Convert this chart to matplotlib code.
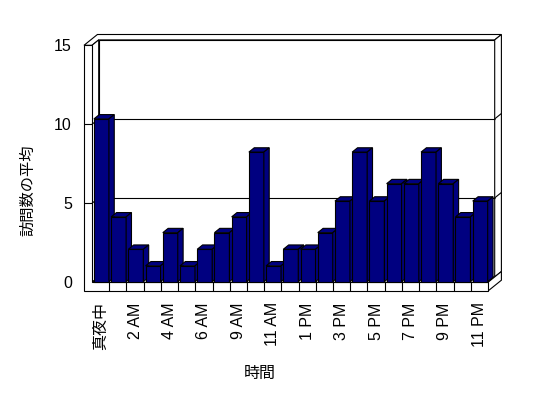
import matplotlib
matplotlib.use("Agg")
import matplotlib.pyplot as plt
from matplotlib.patches import Polygon

plt.rcParams['font.family'] = ['Liberation Sans', 'Noto Sans CJK JP']

hours = ['真夜中', '1 AM', '2 AM', '3 AM', '4 AM', '5 AM', '6 AM', '7 AM',
         '9 AM', '10 AM', '11 AM', '12 PM', '1 PM', '2 PM', '3 PM', '4 PM',
         '5 PM', '6 PM', '7 PM', '8 PM', '9 PM', '10 PM', '11 PM']
visits = [10.3, 4.1, 2.05, 1.0, 3.1, 1.0, 2.05, 3.1, 4.1, 8.2, 1.0, 2.05,
          2.05, 3.1, 5.1, 8.2, 5.1, 6.2, 6.2, 8.2, 6.2, 4.1, 5.1]
y_ticks = [0, 5, 10, 15]
grid_values = [5, 10]

navy = '#000080'
lw = 0.8

# pixel scale of the front plane
SX = 396 / 23
SY = 15.8
# depth direction (per unit of floor depth), wall/floor thickness
DX, DY = 6.7 / SX, 5.4 / SY
WX = 8 / SX
FY = 8.7 / SY
# bar layout: width, front depth, bar depth
W, F, B = 0.87, 0.12, 0.8

n = len(hours)
X0, X1 = -0.5, n - 0.5
YT = y_ticks[-1]
X0o = X0 - WX

fig = plt.figure(figsize=(5.48, 3.98), dpi=100)
ax = fig.add_axes([80 / 548, 102 / 398, 430 / 548, 266 / 398])
ax.set_xlim(X0 - 12 / SX, X1 + 22 / SX)
ax.set_ylim(-13.7 / SY, YT + 15.3 / SY)


def poly(pts, fc='white', z=1):
    ax.add_patch(Polygon(pts, closed=True, fc=fc, ec='black', lw=lw,
                         zorder=z, joinstyle='miter'))


def line(xs, ys, z=2):
    ax.plot(xs, ys, color='black', lw=lw, zorder=z, solid_capstyle='butt')


# back wall
poly([(X0 + DX, DY), (X1 + DX, DY), (X1 + DX, YT + DY), (X0 + DX, YT + DY)])
# top of left wall and back wall
poly([(X0o, YT), (X0, YT), (X0 + DX, YT + DY), (X1 + DX, YT + DY),
      (X1 + 2 * DX, YT + 2 * DY), (X0o + 2 * DX, YT + 2 * DY)])
# right side of back wall
poly([(X1 + DX, DY), (X1 + 2 * DX, 2 * DY), (X1 + 2 * DX, YT + 2 * DY),
      (X1 + DX, YT + DY)])
# inner face of left wall
poly([(X0, 0), (X0 + DX, DY), (X0 + DX, YT + DY), (X0, YT)])
# floor top
poly([(X0, 0), (X1, 0), (X1 + DX, DY), (X0 + DX, DY)])
# floor right side
poly([(X1, -FY), (X1 + 2 * DX, 2 * DY - FY), (X1 + 2 * DX, 2 * DY), (X1, 0)])
# front faces of left wall and floor
poly([(X0o, -FY), (X1, -FY), (X1, 0), (X0, 0), (X0, YT), (X0o, YT)])

for k in range(1, n):
    line([X0 + k, X0 + k], [-FY, 0])

for v in grid_values:
    line([X0 + DX, X1 + DX], [v + DY, v + DY])
    line([X0, X0 + DX], [v, v + DY])
    line([X1 + DX, X1 + 2 * DX], [v + DY, v + 2 * DY])
    line([X0o, X0], [v, v])

# bars: front faces through ax.bar, tops and sides as polygons
xpos = [i + F * DX for i in range(n)]
bars = ax.bar(xpos, visits, width=W, bottom=F * DY, color=navy,
              edgecolor='black', linewidth=lw)
for i, rect in enumerate(bars):
    z = 10 + i
    rect.set_zorder(z)
    xl = xpos[i] - W / 2
    xr = xpos[i] + W / 2
    yb = F * DY
    yt = visits[i] + F * DY
    poly([(xl, yt), (xr, yt), (xr + B * DX, yt + B * DY),
          (xl + B * DX, yt + B * DY)], fc=navy, z=z)
    poly([(xr, yb), (xr + B * DX, yb + B * DY), (xr + B * DX, yt + B * DY),
          (xr, yt)], fc=navy, z=z)

for s in ax.spines.values():
    s.set_visible(False)
ax.patch.set_visible(False)

ax.set_yticks(y_ticks)
ax.set_yticklabels([str(t) for t in y_ticks], fontsize=11.5)
ax.set_xticks(range(0, n, 2))
ax.set_xticklabels(hours[::2], rotation=90, fontsize=11.5)
ax.tick_params(axis='both', length=0)
ax.tick_params(axis='y', pad=5.8)
ax.tick_params(axis='x', pad=4.5)

ax.set_xlabel('時間', fontsize=11.5)
ax.xaxis.set_label_coords((260 - 80) / 430, (296 - 366) / 266)
ax.set_ylabel('訪問数の平均', fontsize=11)
ax.yaxis.set_label_coords((35 - 80) / 430, (296 - 190) / 266)

fig.savefig('out.png', dpi=100)
